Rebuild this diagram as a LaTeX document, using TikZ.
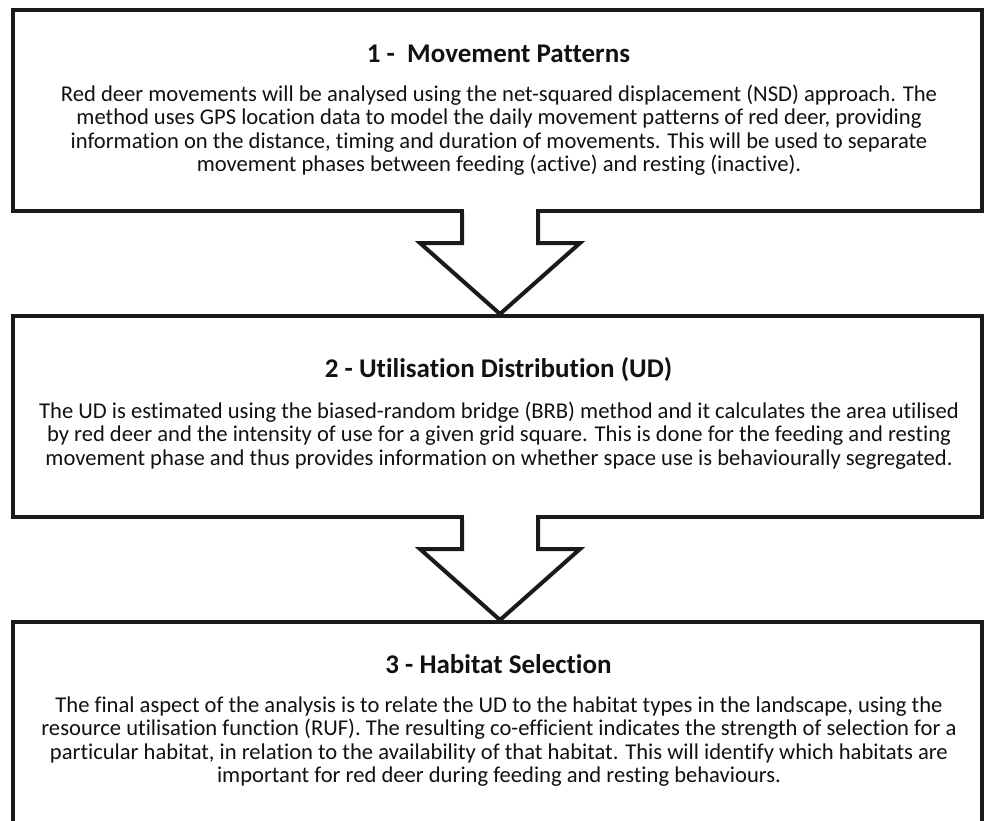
\documentclass[tikz,border=0pt]{standalone}
\usepackage{fontspec}
\setmainfont{Carlito}[RawFeature={-liga;-dlig;-clig}]
\usetikzlibrary{calc}
\definecolor{ink}{HTML}{1A1A1A}
\definecolor{txt}{HTML}{111111}
\newcommand{\topstrut}{\rule{0pt}{20pt}}
\begin{document}
\begin{tikzpicture}[x=1pt,y=-1pt,
  panel/.style={draw=ink,line width=4pt,fill=none,inner sep=0pt},
  ttl/.style={anchor=base,inner sep=0pt,text=txt,font=\bfseries\fontsize{27}{32}\selectfont},
  body/.style={anchor=north,inner sep=0pt,align=center,text=txt,font=\fontsize{22.6}{23.5}\selectfont},
  blockarrow/.style={draw=ink,line width=4pt,line join=miter}
]
\useasboundingbox (0,0) rectangle (984,820);
\clip (0,0) rectangle (984,820);
% boxes
\node[panel,minimum width=969pt,minimum height=201pt] (box1) at (497.5,110.5) {};
\node[panel,minimum width=969pt,minimum height=201pt] (box2) at (497.5,416.5) {};
\node[panel,minimum width=969pt,minimum height=218pt] (box3) at (497.5,731) {};
% titles
\node[ttl] (t1) at (498.5,62) {1 -\ \ Movement Patterns};
\node[ttl] (t2) at (498.5,377) {2 - Utilisation Distribution (UD)};
\node[ttl] (t3) at (498.5,673) {3 - Habitat Selection};
% bodies
\node[body] (b1) at (499,{101-20}) {\topstrut Red deer movements will be analysed using the net-squared displacement (NSD) approach. The\\
method uses GPS location data to model the daily movement patterns of red deer, providing\\
information on the distance, timing and duration of movements. This will be used to separate\\
movement phases between feeding (active) and resting (inactive).};
\node[body] (b2) at (499,{418-20}) {\topstrut The UD is estimated using the biased-random bridge (BRB) method and it calculates the area utilised\\
by red deer and the intensity of use for a given grid square. This is done for the feeding and resting\\
movement phase and thus provides information on whether space use is behaviourally segregated.};
\node[body] (b3) at (499,{712-20}) {\topstrut The final aspect of the analysis is to relate the UD to the habitat types in the landscape, using the\\
resource utilisation function (RUF). The resulting co-efficient indicates the strength of selection for a\\
particular habitat, in relation to the availability of that habitat. This will identify which habitats are\\
important for red deer during feeding and resting behaviours.};
% block arrows
\foreach \a/\b in {box1/box2,box2/box3}{
  \coordinate (s) at ($(\a.south)+(2.5,0)$);
  \fill[white] ($(s)+(-36,-4)$) rectangle ($(s)+(36,4)$);
  \draw[blockarrow] ($(s)+(-38,0)$) -- ++(0,30) -- ++(-42,0) -- ($(\b.north)+(2.5,0)$) -- ($(s)+(80,30)$) -- ++(-42,0) -- ++(0,-30);
}
\end{tikzpicture}
\end{document}
